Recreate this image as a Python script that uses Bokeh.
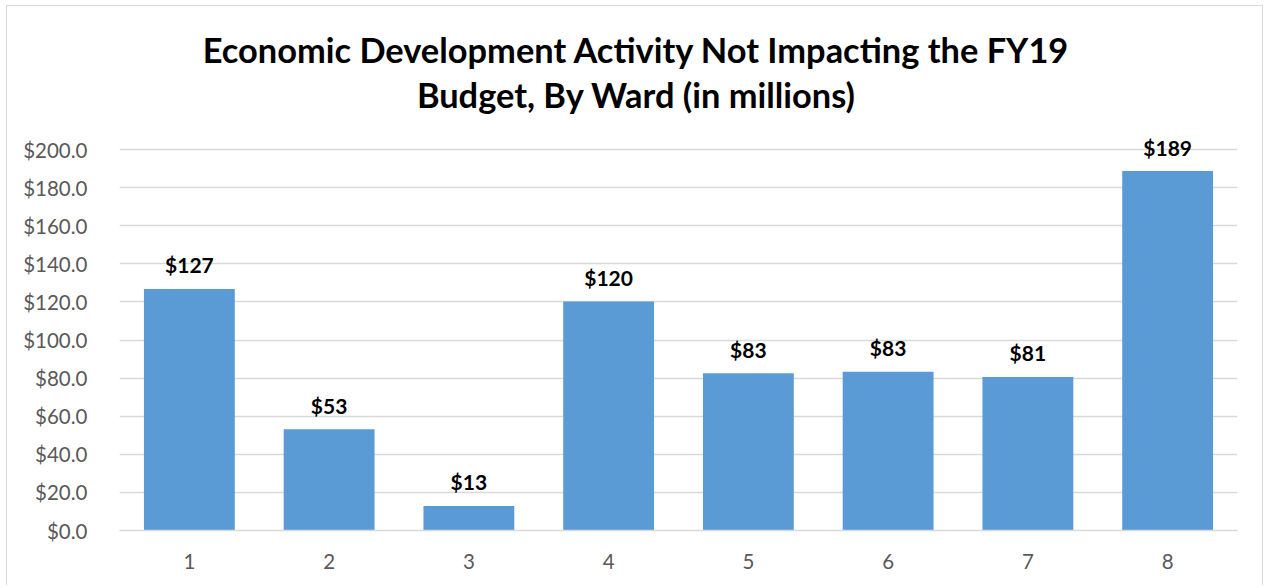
from bokeh.plotting import figure
from bokeh.models import Range1d, FactorRange, Label, ColumnDataSource, NumeralTickFormatter
from bokeh.embed import file_html
from bokeh.resources import INLINE
from bokeh.core.properties import value

# ---- data ----
wards = ["1", "2", "3", "4", "5", "6", "7", "8"]
amounts = [126.8, 53.2, 12.9, 120.2, 82.6, 83.3, 80.6, 188.7]
title_lines = ["Economic Development Activity Not Impacting the FY19",
               "Budget, By Ward (in millions)"]
y_ticks = [0, 20, 40, 60, 80, 100, 120, 140, 160, 180, 200]

BAR = "#5B9BD5"
GRID = "#D9D9D9"
FONT = "Lato"

src = ColumnDataSource(dict(
    ward=wards,
    amount=amounts,
    label=["$%.0f" % v for v in amounts],
))

p = figure(
    width=1257, height=580,
    x_range=FactorRange(*wards, range_padding=0),
    y_range=Range1d(0, 275.1),
    output_backend="svg", toolbar_location=None,
    min_border_left=112, min_border_right=27,
    min_border_top=0, min_border_bottom=56,
)
p.styles = {"margin-left": "6px", "margin-top": "5px",
            "border-top": "1px solid #D9D9D9",
            "border-left": "1px solid #D9D9D9",
            "border-right": "1px solid #D9D9D9"}
p.outline_line_color = None
p.background_fill_color = "white"
p.border_fill_color = "white"

p.vbar(x="ward", top="amount", width=0.65, source=src,
       fill_color=BAR, line_color=None)

p.text(x="ward", y="amount", text="label", source=src,
       text_font=value(FONT), text_font_style="bold", text_font_size="21px",
       text_color="black", text_align="center", text_baseline="alphabetic",
       y_offset=-24)

# axes
p.yaxis.ticker = y_ticks
p.yaxis.formatter = NumeralTickFormatter(format="$0.0")
p.yaxis.axis_line_color = None
p.yaxis.major_tick_line_color = None
p.yaxis.minor_tick_line_color = None
p.yaxis.major_label_text_font = FONT
p.yaxis.major_label_text_font_size = "20.5px"
p.yaxis.major_label_text_color = "#595959"
p.yaxis.major_label_standoff = 26

p.xaxis.axis_line_color = GRID
p.xaxis.axis_line_width = 1.5
p.xaxis.major_tick_line_color = None
p.xaxis.minor_tick_line_color = None
p.xaxis.major_label_text_font = FONT
p.xaxis.major_label_text_font_size = "20.5px"
p.xaxis.major_label_text_color = "#595959"
p.xaxis.major_label_standoff = 17

p.xgrid.grid_line_color = None
p.ygrid.grid_line_color = GRID
p.ygrid.grid_line_width = 1.5

# title, two centred lines (placed in the empty top part of the frame)
for line, yv in zip(title_lines, [252.4, 229.0]):
    p.add_layout(Label(
        x=4, y=yv, x_offset=-42,
        text=line, text_font=FONT, text_font_style="bold",
        text_font_size="34.4px", text_color="black",
        text_align="center", text_baseline="alphabetic",
    ))

open("out.html", "w").write(file_html(p, INLINE))
